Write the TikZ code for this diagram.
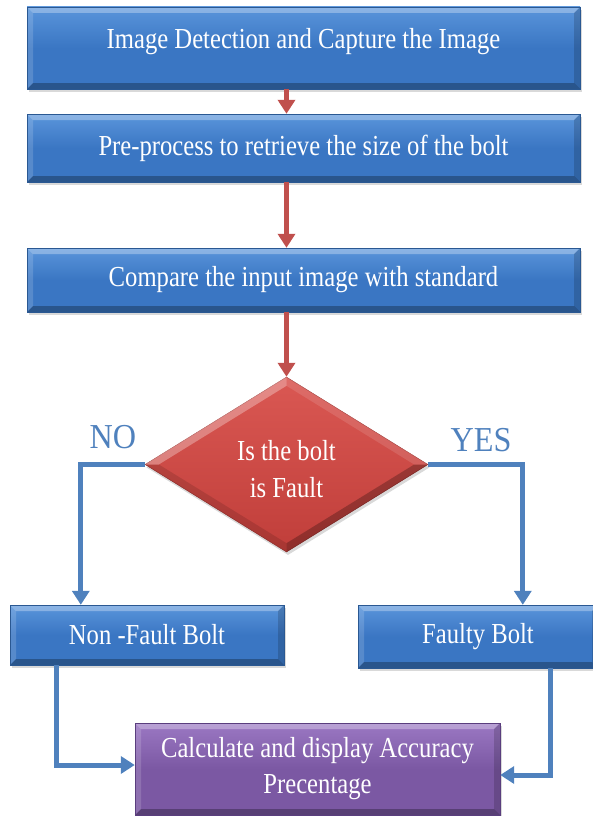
\documentclass[tikz,border=0pt]{standalone}
\usepackage{fontspec}
\setmainfont{Liberation Serif}[FakeStretch=0.85]
\newfontfamily\labelfont{Liberation Serif}[FakeStretch=0.92]
\usepackage{tikz}
\usetikzlibrary{arrows.meta,shapes.geometric,shadows,calc}
\definecolor{boltblue}{HTML}{3A76C3}
\definecolor{boltbluetop}{HTML}{5A95DB}
\definecolor{boltblueedge}{HTML}{2A5892}
\definecolor{boltred}{HTML}{C03E3A}
\definecolor{boltredtop}{HTML}{DA5853}
\definecolor{boltrededge}{HTML}{982E2A}
\definecolor{boltpurple}{HTML}{7B58A3}
\definecolor{boltpurpletop}{HTML}{9B78C3}
\definecolor{boltpurpleedge}{HTML}{5A3E7E}
\definecolor{boltarrow}{HTML}{C0504D}
\definecolor{boltlink}{HTML}{4F81BD}
\tikzset{
  bevel/.style={path picture={
    \fill[white,opacity=0.30] (path picture bounding box.north west) -- (path picture bounding box.north east) -- ++(-#1,-#1) -- ($(path picture bounding box.north west)+(#1,-#1)$) -- cycle;
    \fill[white,opacity=0.15] (path picture bounding box.north west) -- (path picture bounding box.south west) -- ++(#1,#1) -- ($(path picture bounding box.north west)+(#1,-#1)$) -- cycle;
    \fill[black,opacity=0.28] (path picture bounding box.south west) -- (path picture bounding box.south east) -- ++(-#1,#1) -- ($(path picture bounding box.south west)+(#1,#1)$) -- cycle;
    \fill[black,opacity=0.16] (path picture bounding box.north east) -- (path picture bounding box.south east) -- ++(-#1,#1) -- ($(path picture bounding box.north east)+(-#1,-#1)$) -- cycle;
  }},
  flowbox/.style={rectangle,draw=boltblueedge,top color=boltbluetop,bottom color=boltblue,middle color=boltblue,
    text=white,font=\fontsize{29}{36}\selectfont,align=center,inner sep=0pt,bevel=6pt,
    drop shadow={shadow xshift=1.5pt,shadow yshift=-3pt,opacity=0.3}},
  flowend/.style={flowbox,draw=boltpurpleedge,top color=boltpurpletop,bottom color=boltpurple,middle color=boltpurple},
  flowdiam/.style={diamond,aspect=1.62,minimum width=283pt,minimum height=175pt,inner sep=0pt,
    draw=boltrededge,top color=boltredtop,bottom color=boltred,text=white,
    font=\fontsize{29}{37}\selectfont,align=center,text height=66pt,
    drop shadow={shadow xshift=1.5pt,shadow yshift=-3pt,opacity=0.3}},
  flowarrow/.style={-{Triangle[width=17pt,length=14pt]},draw=boltarrow,line width=5pt},
  flowlink/.style={-{Triangle[width=17pt,length=14pt]},draw=boltlink,line width=5pt},
  flowlabel/.style={text=boltlink,font=\labelfont\fontsize{35}{36}\selectfont,inner sep=0pt}
}
\begin{document}
\begin{tikzpicture}[x=1pt,y={(0pt,-1pt)}]
\useasboundingbox (0,0) rectangle (592,816);
\node[flowbox,minimum width=553pt,minimum height=82pt,text depth=20pt] (capture) at (303.5,48) {Image Detection and Capture the Image};
\node[flowbox,minimum width=553pt,minimum height=68pt] (prep) at (303.5,148) {Pre-process to retrieve the size of the bolt};
\node[flowbox,minimum width=553pt,minimum height=64pt] (compare) at (303.5,280) {Compare the input image with standard};
\node[flowdiam] (fault) at (286.5,464.5) {Is the bolt\\is Fault};
\node[flowbox,minimum width=274pt,minimum height=60pt] (good) at (147,635) {Non -Fault Bolt};
\node[flowbox,minimum width=240pt,minimum height=63pt] (bad) at (478,636.5) {Faulty Bolt};
\node[flowend,minimum width=365pt,minimum height=92pt] (acc) at (317.5,769) {Calculate and display Accuracy\\Precentage};
% bevel faces of the decision
\foreach \a/\b/\cx/\cy/\dx/\dy/\col/\op in {west/north/0/9/14/0/white/0.30,north/east/-14/0/0/9/white/0.12,east/south/0/-9/-14/0/black/0.25,south/west/14/0/0/-9/black/0.12}
  \fill[\col,opacity=\op] (fault.\a) -- (fault.\b) -- ($(fault.\b)+(\cx,\cy)$) -- ($(fault.\a)+(\dx,\dy)$) -- cycle;
% arrows
\draw[flowarrow] (capture.south -| fault.north) -- (prep.north -| fault.north);
\draw[flowarrow] (prep.south -| fault.north) -- (compare.north -| fault.north);
\draw[flowarrow] (compare.south -| fault.north) -- (fault.north);
\draw[flowlink] (fault.west) -| ($(good.north west)+(71,0)$);
\draw[flowlink] (fault.east) -| ($(bad.north west)+(165,0)$);
\draw[flowlink] ($(good.south west)+(47,0)$) |- ($(acc.west)+(0,-4)$);
\draw[flowlink] ($(bad.south west)+(193,0)$) |- ($(acc.east)+(0,6)$);
\node[flowlabel] (no) at (113,437) {NO};
\node[flowlabel] (yes) at (481,440) {YES};
\end{tikzpicture}
\end{document}
